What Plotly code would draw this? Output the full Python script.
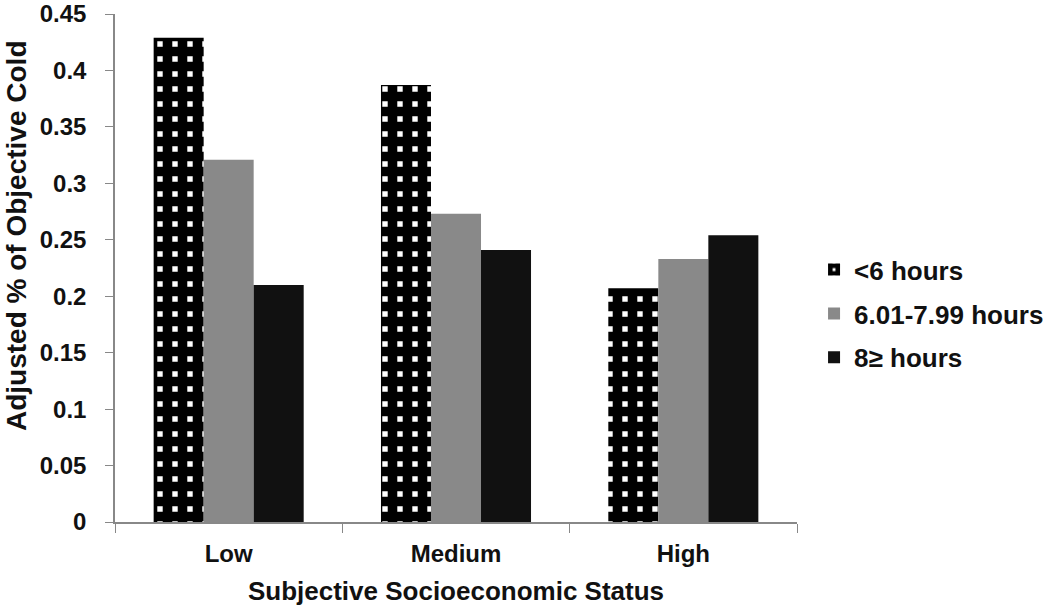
import plotly.graph_objects as go

categories = ["Low", "Medium", "High"]
series_names = ["<6 hours", "6.01-7.99 hours", "8≥ hours"]
lt6 = [0.429, 0.387, 0.207]
mid = [0.321, 0.273, 0.233]
ge8 = [0.210, 0.241, 0.254]
y_ticks = [0, 0.05, 0.1, 0.15, 0.2, 0.25, 0.3, 0.35, 0.4, 0.45]
y_tick_labels = ["0", "0.05", "0.1", "0.15", "0.2", "0.25", "0.3", "0.35", "0.4", "0.45"]
x_title = "Subjective Socioeconomic Status"
y_title = "Adjusted % of Objective Cold"

fig = go.Figure()
fig.add_trace(go.Bar(
    x=categories, y=lt6, name=series_names[0], legendgroup="a",
    marker=dict(color="black", line=dict(width=0),
                pattern=dict(shape="+", bgcolor="white", fgcolor="black",
                             fgopacity=1, size=15, solidity=0.87, fillmode="replace")),
))
fig.add_trace(go.Bar(x=categories, y=mid, name=series_names[1], legendgroup="b",
                     marker=dict(color="#898989", line=dict(width=0))))
fig.add_trace(go.Bar(x=categories, y=ge8, name=series_names[2], legendgroup="c",
                     marker=dict(color="#111111", line=dict(width=0))))

fig.update_layout(
    width=1050, height=608,
    paper_bgcolor="white", plot_bgcolor="white",
    margin=dict(l=115, r=253, t=14, b=86, autoexpand=False),
    barmode="group", bargap=0.34, bargroupgap=0,
    font=dict(family="Liberation Sans, Arial", size=24, color="#111"),
    showlegend=True,
    legend=dict(x=1.025, y=0.41, xanchor="left", yanchor="middle",
                font=dict(size=26, family="Liberation Sans, Arial", weight="bold"),
                tracegroupgap=7, itemsizing="constant"),
    xaxis=dict(showline=True, linecolor="#888", linewidth=1.5, automargin=False,
               ticks="outside", tickson="boundaries", ticklen=9, tickcolor="#888",
               tickfont=dict(size=24, weight="bold"), ticklabelstandoff=9,
               title=dict(text=x_title,
                          font=dict(size=26, weight="bold"), standoff=16)),
    yaxis=dict(range=[0, 0.45], tickmode="array", tickvals=y_ticks, ticktext=y_tick_labels,
               showline=True, linecolor="#888", linewidth=1.5,
               automargin=False, ticklabeloverflow="allow",
               ticks="outside", ticklen=8, tickcolor="#888", showgrid=False, zeroline=False,
               ticklabelstandoff=14,
               tickfont=dict(size=24, weight="bold")),
    annotations=[dict(text=y_title, textangle=-90, xref="paper", yref="paper",
                      x=-0.1437, y=0.563, xanchor="center", yanchor="middle",
                      showarrow=False, font=dict(size=28, weight="bold"))],
)
fig.write_html("out.html", config={"displayModeBar": False},
               post_script="document.body.style.margin='0';")
